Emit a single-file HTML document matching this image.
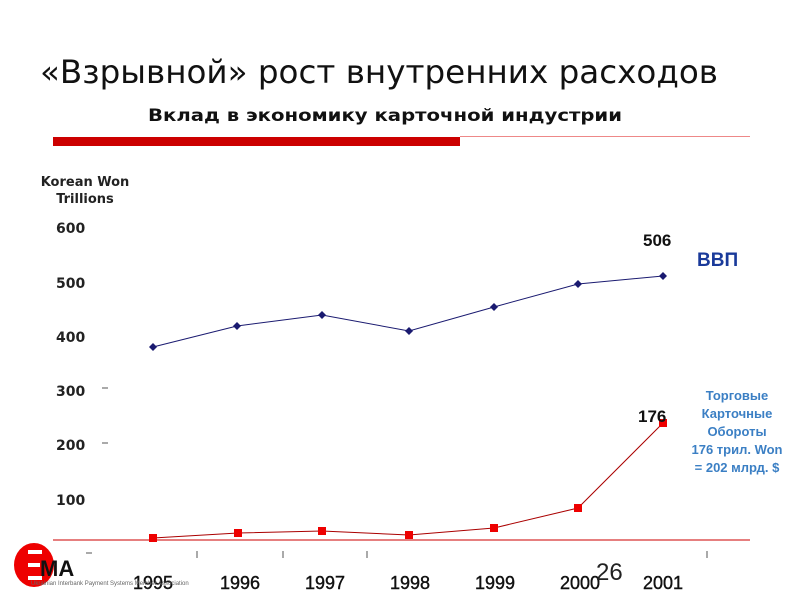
<!DOCTYPE html>
<html><head><meta charset="utf-8"><style>
body{margin:0;width:800px;height:600px;background:#fff;overflow:hidden;position:relative;font-family:"Liberation Sans",sans-serif}
.a{position:absolute;white-space:nowrap}
</style></head><body>
<div class="a" style="left:53px;top:137px;width:407px;height:9px;background:#c00"></div>
<div class="a" style="left:460px;top:136px;width:290px;height:1px;background:#e88"></div>
<svg class="a" style="left:0;top:0" width="800" height="600">
<text x="40" y="83" font-family="DejaVu Sans" font-size="32" fill="#111" textLength="678" lengthAdjust="spacingAndGlyphs">«Взрывной» рост внутренних расходов</text>
<text x="148" y="121" font-family="DejaVu Sans" font-size="17" font-weight="bold" fill="#111" textLength="474" lengthAdjust="spacingAndGlyphs">Вклад в экономику карточной индустрии</text>
<g font-family="DejaVu Sans" font-size="13" font-weight="bold" fill="#222" text-anchor="middle">
<text x="85" y="186">Korean Won</text><text x="85" y="203">Trillions</text></g>
<g font-family="DejaVu Sans" font-size="14" font-weight="bold" fill="#222">
<text x="56" y="233">600</text><text x="56" y="288">500</text><text x="56" y="342">400</text>
<text x="56" y="396">300</text><text x="56" y="450">200</text><text x="56" y="505">100</text>
</g>
<g stroke="#555"><line x1="102" y1="388" x2="108" y2="388"/><line x1="102" y1="443" x2="108" y2="443"/><line x1="86" y1="553" x2="92" y2="553"/>
<line x1="197" y1="551" x2="197" y2="558"/><line x1="283" y1="551" x2="283" y2="558"/><line x1="367" y1="551" x2="367" y2="558"/><line x1="707" y1="551" x2="707" y2="558"/></g>
<line x1="53" y1="540" x2="750" y2="540" stroke="#d55" stroke-width="1.5"/>
<polyline points="153,347 237,326 322,315 409,331 494,307 578,284 663,276" fill="none" stroke="#1a1a70" stroke-width="1"/>
<g fill="#1a1a70">
<path d="M153,343l4,4-4,4-4-4z"/><path d="M237,322l4,4-4,4-4-4z"/><path d="M322,311l4,4-4,4-4-4z"/><path d="M409,327l4,4-4,4-4-4z"/><path d="M494,303l4,4-4,4-4-4z"/><path d="M578,280l4,4-4,4-4-4z"/><path d="M663,272l4,4-4,4-4-4z"/></g>
<polyline points="153,538 238,533 322,531 409,535 494,528 578,508 663,423" fill="none" stroke="#a00" stroke-width="1"/>
<g fill="#e00"><rect x="149" y="534" width="8" height="8"/><rect x="234" y="529" width="8" height="8"/><rect x="318" y="527" width="8" height="8"/><rect x="405" y="531" width="8" height="8"/><rect x="490" y="524" width="8" height="8"/><rect x="574" y="504" width="8" height="8"/><rect x="659" y="419" width="8" height="8"/></g>
<g font-family="Liberation Sans" font-size="17" font-weight="bold" fill="#111">
<text x="643" y="246">506</text><text x="638" y="422">176</text></g>
<text x="697" y="266" font-family="Liberation Sans" font-size="19" font-weight="bold" fill="#1a3a9a">ВВП</text>
<g font-family="Liberation Sans" font-size="18" fill="#111" text-anchor="middle" stroke="#111" stroke-width="0.4">
<text x="153" y="589">1995</text><text x="240" y="589">1996</text><text x="325" y="589">1997</text><text x="410" y="589">1998</text><text x="495" y="589">1999</text><text x="580" y="589">2000</text><text x="663" y="589">2001</text></g>
<text x="596" y="580" font-family="Liberation Sans" font-size="24" fill="#222">26</text>
<g font-family="Liberation Sans" font-size="13" font-weight="bold" fill="#3b7fc4" text-anchor="middle">
<text x="737" y="400">Торговые</text><text x="737" y="418">Карточные</text><text x="737" y="436">Обороты</text><text x="737" y="454">176 трил. Won</text><text x="737" y="472">= 202 млрд. $</text></g>
<ellipse cx="34" cy="565" rx="20" ry="22" fill="#e00"/>
<rect x="28" y="550" width="14" height="4" fill="#fff"/><rect x="28" y="563" width="12" height="4" fill="#fff"/><rect x="28" y="576" width="14" height="4" fill="#fff"/>
<text x="40" y="576" font-family="Liberation Sans" font-size="22" font-weight="bold" fill="#111">MA</text>
<text x="31" y="585" font-family="Liberation Sans" font-size="6" fill="#666">Ukrainian Interbank Payment Systems Member Association</text>
</svg>
</body></html>
